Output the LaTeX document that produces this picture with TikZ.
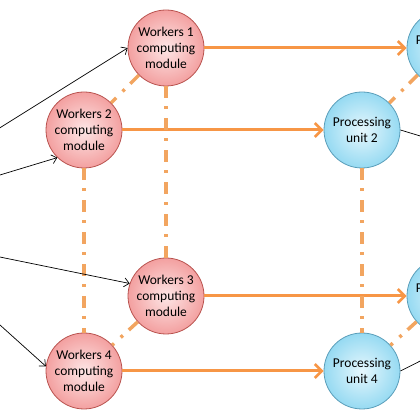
\documentclass[tikz,border=0pt]{standalone}
\usepackage{fontspec}
\setmainfont{Carlito}
\usetikzlibrary{arrows.meta}
\definecolor{wfillin}{HTML}{FDE6E6}
\definecolor{wfillout}{HTML}{F3A0A0}
\definecolor{wborder}{HTML}{B9534F}
\definecolor{pfillin}{HTML}{E6F7FD}
\definecolor{pfillout}{HTML}{96DAF2}
\definecolor{pborder}{HTML}{5A9EBA}
\definecolor{arroworange}{HTML}{F79646}
\definecolor{linkorange}{HTML}{F2A560}
\tikzset{
  x=1pt, y=1pt,
  worker/.style={circle, draw=wborder, line width=0.8pt, minimum size=76pt, inner sep=0pt,
    shading=radial, inner color=wfillin, outer color=wfillout, align=center,
    font=\fontsize{13.5}{16}\selectfont},
  procunit/.style={circle, draw=pborder, line width=0.8pt, minimum size=76pt, inner sep=0pt,
    shading=radial, inner color=pfillin, outer color=pfillout, align=center,
    font=\fontsize{13.5}{16}\selectfont},
  flow/.style={draw=arroworange, line width=3pt,
    -{Straight Barb[length=7pt,width=14pt,line width=2.6pt]}},
  link/.style={draw=linkorange, line width=3.5pt,
    dash pattern=on 12pt off 8pt on 3pt off 9pt},
  inarrow/.style={draw=black, line width=0.7pt,
    -{Straight Barb[length=5pt,width=9pt,line width=0.7pt]}},
  outline/.style={draw=black, line width=0.7pt},
}
\begin{document}
\begin{tikzpicture}
\useasboundingbox (0,0) rectangle (420,420);
\clip (0,0) rectangle (420,420);
\fill[white] (0,0) rectangle (420,420);

\coordinate (cW1) at (166,372);
\coordinate (cW2) at (84,290);
\coordinate (cW3) at (166,124);
\coordinate (cW4) at (84,49);
\coordinate (cP1) at (445,372);
\coordinate (cP2) at (362,290);
\coordinate (cP3) at (445,124);
\coordinate (cP4) at (362,49);

\node[worker] (W1) at (cW1) {Workers 1\\computing\\module};
\node[worker] (W2) at (cW2) {Workers 2\\computing\\module};
\node[worker] (W3) at (cW3) {Workers 3\\computing\\module};
\node[worker] (W4) at (cW4) {Workers 4\\computing\\module};
\node[procunit] (P1) at (cP1) {Processing\\unit 1};
\node[procunit] (P2) at (cP2) {Processing\\unit 2};
\node[procunit] (P3) at (cP3) {Processing\\unit 3};
\node[procunit] (P4) at (cP4) {Processing\\unit 4};

% orange flow arrows
\draw[flow] (W1) -- (P1);
\draw[flow] (W2) -- (P2);
\draw[flow] (W3) -- (P3);
\draw[flow] (W4) -- (P4);

% dash-dot links
\draw[link] (W1) -- (W2);
\draw[link] (W1) -- (W3);
\draw[link] (W2) -- (W4);
\draw[link] (W3) -- (W4);
\draw[link] (P1) -- (P2);
\draw[link] (P1) -- (P3);
\draw[link] (P2) -- (P4);
\draw[link] (P3) -- (P4);

% input arrows from the left
\coordinate (in1) at (-10,286);
\coordinate (in2) at (-10,242);
\coordinate (in3) at (-10,165);
\coordinate (in4) at (-10,104);
\draw[inarrow] (in1) -- (W1.west);
\draw[inarrow] (in2) -- (W2.226);
\draw[inarrow] (in3) -- (W3.161);
\draw[inarrow] (in4) -- (W4.173);

% output lines to the right
\coordinate (out2) at (460,272);
\coordinate (out4) at (460,79);
\draw[outline] (P2.east) -- (out2);
\draw[outline] (P4.east) -- (out4);
\end{tikzpicture}
\end{document}
